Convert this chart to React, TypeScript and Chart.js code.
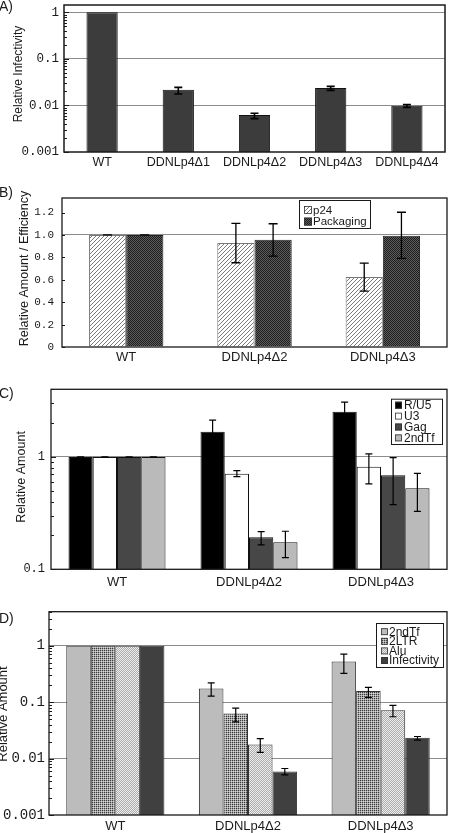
import React, { useEffect, useRef } from "react";
import { Chart, registerables } from "chart.js";

Chart.register(...registerables);

const SANS = '"Liberation Sans", Arial, Helvetica, sans-serif';
const MONO = '"Liberation Mono", "Courier New", monospace';
const INK = "#1a1a1a";
const GRID = "#8c8c8c";

// ---------- Panel A: relative infectivity (log scale)
const catsA = ["WT", "DDNLp4Δ1", "DDNLp4Δ2", "DDNLp4Δ3", "DDNLp4Δ4"];
const infA = [1, 0.0218, 0.0062, 0.0237, 0.0099];
const infALo = [null, 0.0176, 0.0052, 0.0211, 0.0091];
const infAHi = [null, 0.0245, 0.0068, 0.0257, 0.0104];
const ticksA = [0.001, 0.01, 0.1, 1];
const tickLabelsA = ["0.001", "0.01", "0.1", "1"];
const gridA = [0.01, 0.1, 1];

// ---------- Panel B: relative amount / efficiency (linear)
const catsB = ["WT", "DDNLp4Δ2", "DDNLp4Δ3"];
const p24 = [1.0, 0.928, 0.624];
const p24Lo = [1.0, 0.752, 0.499];
const p24Hi = [1.0, 1.104, 0.749];
const pack = [1.0, 0.958, 0.994];
const packLo = [1.0, 0.812, 0.791];
const packHi = [1.0, 1.1, 1.203];
const ticksB = [0, 0.2, 0.4, 0.6, 0.8, 1.0, 1.2];
const tickLabelsB = ["0", "0.2", "0.4", "0.6", "0.8", "1.0", "1.2"];
const gridB = [1.0];

// ---------- Panel C: relative amount (log)
const catsC = ["WT", "DDNLp4Δ2", "DDNLp4Δ3"];
const ru5 = [1, 1.68, 2.52];
const ru5Lo = [1, 1.32, 2.07];
const ru5Hi = [1, 2.13, 3.07];
const u3 = [1, 0.71, 0.82];
const u3Lo = [1, 0.668, 0.575];
const u3Hi = [1, 0.756, 1.063];
const gag = [1, 0.193, 0.687];
const gagLo = [1, 0.165, 0.376];
const gagHi = [1, 0.216, 0.986];
const tfC = [1, 0.174, 0.526];
const tfCLo = [1, 0.127, 0.328];
const tfCHi = [1, 0.218, 0.715];
const ticksC = [0.1, 1];
const tickLabelsC = ["0.1", "1"];
const gridC = [1];

// ---------- Panel D: relative amount (log)
const catsD = ["WT", "DDNLp4Δ2", "DDNLp4Δ3"];
const tfD = [1, 0.175, 0.527];
const tfDLo = [null, 0.128, 0.323];
const tfDHi = [null, 0.22, 0.711];
const ltr = [1, 0.063, 0.157];
const ltrLo = [null, 0.0448, 0.121];
const ltrHi = [null, 0.078, 0.182];
const alu = [1, 0.0177, 0.0721];
const aluLo = [null, 0.0129, 0.055];
const aluHi = [null, 0.0226, 0.0873];
const infD = [1, 0.00588, 0.0233];
const infDLo = [null, 0.00513, 0.0212];
const infDHi = [null, 0.00667, 0.0246];
const ticksD = [0.001, 0.01, 0.1, 1];
const tickLabelsD = ["0.001", "0.01", "0.1", "1"];
const gridD = [0.01, 0.1, 1];

// ---------- patterns
function makeTile(ctx: CanvasRenderingContext2D, size: number, colorAt: (x: number, y: number) => string) {
  const c = document.createElement("canvas");
  c.width = size;
  c.height = size;
  const g = c.getContext("2d")!;
  for (let x = 0; x < size; x++)
    for (let y = 0; y < size; y++) {
      g.fillStyle = colorAt(x, y);
      g.fillRect(x, y, 1, 1);
    }
  return ctx.createPattern(c, "repeat")!;
}

// ---------- plugins
const errorBarPlugin = {
  id: "errbars",
  afterDatasetsDraw(chart: any, _a: any, o: any) {
    const ctx = chart.ctx;
    const ys = chart.scales.y;
    ctx.save();
    ctx.strokeStyle = "#000";
    ctx.lineWidth = o.width || 1.2;
    const cap = o.cap || 3.5;
    chart.data.datasets.forEach((ds: any, di: number) => {
      if (!ds.errLo) return;
      const meta = chart.getDatasetMeta(di);
      meta.data.forEach((bar: any, i: number) => {
        const lo = ds.errLo[i];
        const hi = ds.errHi[i];
        if (lo == null || hi == null) return;
        const x = bar.x;
        const y1 = ys.getPixelForValue(lo);
        const y2 = ys.getPixelForValue(hi);
        ctx.beginPath();
        ctx.moveTo(x, y1);
        ctx.lineTo(x, y2);
        ctx.moveTo(x - cap, y1);
        ctx.lineTo(x + cap, y1);
        ctx.moveTo(x - cap, y2);
        ctx.lineTo(x + cap, y2);
        ctx.stroke();
      });
    });
    ctx.restore();
  },
};

const decorPlugin = {
  id: "decor",
  afterDraw(chart: any, _a: any, o: any) {
    const ctx = chart.ctx;
    const a = chart.chartArea;
    const ys = chart.scales.y;
    ctx.save();
    // inward tick marks on the left border
    const marks: [number, number][] = [];
    if (o.log) {
      const k0 = Math.floor(Math.log10(ys.min));
      const k1 = Math.ceil(Math.log10(ys.max));
      for (let k = k0; k <= k1; k++)
        for (let m = 1; m <= 9; m++) {
          const v = m * Math.pow(10, k);
          if (v >= ys.min * 0.999 && v <= ys.max) marks.push([v, m === 1 ? o.majorLen : o.minorLen]);
        }
    } else {
      (o.marks || []).forEach((v: number) => marks.push([v, o.majorLen]));
    }
    ctx.strokeStyle = INK;
    ctx.lineWidth = 1;
    ctx.beginPath();
    marks.forEach(([v, len]) => {
      const y = Math.round(ys.getPixelForValue(v)) + 0.5;
      ctx.moveTo(a.left, y);
      ctx.lineTo(a.left + len, y);
    });
    ctx.stroke();
    // frame
    ctx.lineWidth = o.frame || 1.3;
    ctx.strokeStyle = INK;
    ctx.strokeRect(a.left, a.top, a.right - a.left, a.bottom - a.top);
    // legend
    const L = o.legend;
    if (L) {
      ctx.fillStyle = "#fff";
      ctx.fillRect(L.x, L.y, L.w, L.h);
      ctx.lineWidth = 1;
      ctx.strokeStyle = INK;
      ctx.strokeRect(L.x + 0.5, L.y + 0.5, L.w, L.h);
      ctx.font = `${L.size}px ${SANS}`;
      ctx.textBaseline = "middle";
      ctx.textAlign = "left";
      chart.data.datasets.forEach((ds: any, i: number) => {
        const cy = L.row0 + i * L.dy;
        ctx.fillStyle = ds.backgroundColor;
        ctx.fillRect(L.sx, cy - L.sw / 2, L.sw, L.sw);
        ctx.strokeStyle = "#333";
        ctx.lineWidth = 0.8;
        ctx.strokeRect(L.sx + 0.5, cy - L.sw / 2 + 0.5, L.sw - 1, L.sw - 1);
        ctx.fillStyle = INK;
        ctx.fillText(ds.label, L.tx, cy + 0.5);
      });
    }
    // free texts
    ctx.fillStyle = INK;
    (o.texts || []).forEach((t: any) => {
      ctx.font = t.font;
      if (t.rot) {
        ctx.save();
        ctx.translate(t.x, t.y);
        ctx.rotate(-Math.PI / 2);
        ctx.textAlign = "center";
        ctx.textBaseline = "middle";
        ctx.fillText(t.text, 0, 0);
        ctx.restore();
      } else {
        ctx.textAlign = "left";
        ctx.textBaseline = "alphabetic";
        ctx.fillText(t.text, t.x, t.y);
      }
    });
    ctx.restore();
  },
};

function yScale(o: {
  log: boolean; min: number; max: number; ticks: number[]; labels: string[]; grid: number[];
  font: number; pad: number; L: number;
}) {
  return {
    type: o.log ? "logarithmic" : "linear",
    min: o.min,
    max: o.max,
    bounds: "data",
    afterBuildTicks: (s: any) => {
      s.ticks = o.ticks.map((v) => ({ value: v }));
    },
    afterFit: (s: any) => {
      s.width = o.L;
      s.paddingTop = 0;
      s.paddingBottom = 0;
      s.paddingLeft = 0;
      s.paddingRight = 0;
    },
    ticks: {
      autoSkip: false,
      color: INK,
      padding: o.pad,
      font: { family: MONO, size: o.font },
      callback: (_v: any, i: number) => o.labels[i],
    },
    grid: {
      drawTicks: false,
      lineWidth: 1,
      color: (c: any) =>
        c.tick && o.grid.some((g) => Math.abs(g - c.tick.value) < 1e-9) ? GRID : "rgba(0,0,0,0)",
    },
    border: { display: false },
  };
}

function buildConfig(o: {
  H: number; R: number; T: number; B: number;
  labels: string[]; datasets: any[]; y: any;
  xFont: number; xPad: number; decor: any; err: any;
}) {
  return {
    type: "bar",
    data: { labels: o.labels, datasets: o.datasets },
    options: {
      responsive: false,
      maintainAspectRatio: false,
      animation: false,
      events: [],
      layout: { padding: { left: 0, right: 450 - o.R, top: o.T, bottom: 0 } },
      plugins: {
        legend: { display: false },
        tooltip: { enabled: false },
        decor: o.decor,
        errbars: o.err,
      },
      scales: {
        x: {
          type: "category",
          grid: { display: false, drawTicks: false },
          border: { display: false },
          ticks: {
            color: INK,
            autoSkip: false,
            maxRotation: 0,
            padding: o.xPad,
            font: { family: SANS, size: o.xFont },
          },
          afterFit: (s: any) => {
            s.height = o.H - o.B;
            s.paddingLeft = 0;
            s.paddingRight = 0;
            s.paddingTop = 0;
            s.paddingBottom = 0;
          },
        },
        y: o.y,
      },
    },
    plugins: [errorBarPlugin, decorPlugin],
  };
}

// ---------- panel builders (canvas-relative geometry)
function configA(_ctx: CanvasRenderingContext2D) {
  return buildConfig({
    H: 180, R: 445, T: 5, B: 152,
    labels: catsA,
    datasets: [
      {
        label: "Infectivity",
        data: infA,
        errLo: infALo,
        errHi: infAHi,
        backgroundColor: "#3c3c3c",
        borderColor: "#111",
        borderWidth: 1,
        barPercentage: 0.41,
        categoryPercentage: 1,
      },
    ],
    y: yScale({ log: true, min: 0.001, max: 1.44, ticks: ticksA, labels: tickLabelsA, grid: gridA, font: 12.5, pad: 5, L: 64 }),
    xFont: 12.5,
    xPad: 3,
    err: { width: 1.6, cap: 4 },
    decor: {
      log: true, majorLen: 5, minorLen: 3, frame: 1.5,
      texts: [
        { text: "A)", x: -1, y: 11, font: `14px ${SANS}` },
        { text: "Relative Infectivity", x: 19, y: 74, rot: true, font: `12px ${SANS}` },
      ],
    },
  });
}

function configB(ctx: CanvasRenderingContext2D) {
  const hatch = makeTile(ctx, 4, (x, y) => ((x + y) % 4 === 3 ? "#7a7a7a" : "#ffffff"));
  const dark = makeTile(ctx, 2, (x, y) => ((x + y) % 2 === 0 ? "#1e1e1e" : "#5c5c5c"));
  return buildConfig({
    H: 192, R: 447, T: 18, B: 167,
    labels: catsB,
    datasets: [
      {
        label: "p24", data: p24, errLo: p24Lo, errHi: p24Hi,
        backgroundColor: hatch, borderColor: "#777", borderWidth: 1,
        barPercentage: 1, categoryPercentage: 0.58,
      },
      {
        label: "Packaging", data: pack, errLo: packLo, errHi: packHi,
        backgroundColor: dark, borderColor: "#222", borderWidth: 1,
        barPercentage: 1, categoryPercentage: 0.58,
      },
    ],
    y: yScale({ log: false, min: 0, max: 1.33, ticks: ticksB, labels: tickLabelsB, grid: gridB, font: 11, pad: 8, L: 62 }),
    xFont: 13,
    xPad: 3,
    err: { width: 1.3, cap: 4.5 },
    decor: {
      log: false, marks: ticksB, majorLen: 3, frame: 1.3,
      legend: { x: 299, y: 20, w: 71, h: 28, row0: 30, dy: 11.6, sx: 304, sw: 8, tx: 313, size: 11.5 },
      texts: [
        { text: "B)", x: -1, y: 17, font: `14px ${SANS}` },
        { text: "Relative Amount / Efficiency", x: 25, y: 88.5, rot: true, font: `12.5px ${SANS}` },
      ],
    },
  });
}

function configC(_ctx: CanvasRenderingContext2D) {
  const common = { borderColor: "#111", borderWidth: 1, barPercentage: 1, categoryPercentage: 0.735 };
  return buildConfig({
    H: 226, R: 447, T: 17.3, B: 197.3,
    labels: catsC,
    datasets: [
      { label: "R/U5", data: ru5, errLo: ru5Lo, errHi: ru5Hi, backgroundColor: "#000000", ...common },
      { label: "U3", data: u3, errLo: u3Lo, errHi: u3Hi, backgroundColor: "#ffffff", ...common },
      { label: "Gag", data: gag, errLo: gagLo, errHi: gagHi, backgroundColor: "#474747", ...common },
      { label: "2ndTf", data: tfC, errLo: tfCLo, errHi: tfCHi, backgroundColor: "#bababa", ...common },
    ],
    y: yScale({ log: true, min: 0.1, max: 4, ticks: ticksC, labels: tickLabelsC, grid: gridC, font: 12, pad: 6, L: 51 }),
    xFont: 13,
    xPad: 5,
    err: { width: 1.2, cap: 3.5 },
    decor: {
      log: true, majorLen: 5, minorLen: 3, frame: 1.3,
      legend: { x: 391, y: 26.7, w: 51, h: 45.3, row0: 33.2, dy: 10.9, sx: 395, sw: 7, tx: 404, size: 12 },
      texts: [
        { text: "C)", x: -1, y: 26, font: `14px ${SANS}` },
        { text: "Relative Amount", x: 21.7, y: 105, rot: true, font: `12.5px ${SANS}` },
      ],
    },
  });
}

function configD(ctx: CanvasRenderingContext2D) {
  const ltrPat = makeTile(ctx, 2, (x, y) =>
    x === 0 && y === 0 ? "#3a3a3a" : x === 1 && y === 1 ? "#d6d6d6" : "#a6a6a6"
  );
  const aluPat = makeTile(ctx, 2, (x, y) => ((x + y) % 2 === 0 ? "#eeeeee" : "#ababab"));
  const common = { borderColor: "#333", borderWidth: 1, barPercentage: 1, categoryPercentage: 0.74 };
  return buildConfig({
    H: 235, R: 447, T: 13.7, B: 217,
    labels: catsD,
    datasets: [
      { label: "2ndTf", data: tfD, errLo: tfDLo, errHi: tfDHi, backgroundColor: "#bcbcbc", ...common },
      { label: "2LTR", data: ltr, errLo: ltrLo, errHi: ltrHi, backgroundColor: ltrPat, ...common },
      { label: "Alu", data: alu, errLo: aluLo, errHi: aluHi, backgroundColor: aluPat, ...common },
      { label: "Infectivity", data: infD, errLo: infDLo, errHi: infDHi, backgroundColor: "#404040", ...common },
    ],
    y: yScale({ log: true, min: 0.001, max: 4, ticks: ticksD, labels: tickLabelsD, grid: gridD, font: 14, pad: 4, L: 49 }),
    xFont: 13,
    xPad: 4,
    err: { width: 1.2, cap: 3.5 },
    decor: {
      log: true, majorLen: 5, minorLen: 3, frame: 1.3,
      legend: { x: 376, y: 25, w: 67, h: 44, row0: 33.7, dy: 9.6, sx: 381, sw: 7, tx: 389, size: 12 },
      texts: [
        { text: "D)", x: -1, y: 24.7, font: `14px ${SANS}` },
        { text: "Relative Amount", x: 3.5, y: 116, rot: true, font: `13px ${SANS}` },
      ],
    },
  });
}

function Panel({ top, height, build }: { top: number; height: number; build: (ctx: CanvasRenderingContext2D) => any }) {
  const ref = useRef<HTMLCanvasElement>(null);
  useEffect(() => {
    const cv = ref.current!;
    const ctx = cv.getContext("2d")!;
    const chart = new Chart(ctx, build(ctx));
    return () => chart.destroy();
  }, []);
  return (
    <canvas
      ref={ref}
      width={450}
      height={height}
      style={{ position: "absolute", left: 0, top, width: 450, height, display: "block" }}
    />
  );
}

export default function App() {
  return (
    <div style={{ position: "absolute", left: 0, top: 0, width: 450, height: 833, background: "#fff", overflow: "hidden" }}>
      <Panel top={0} height={180} build={configA} />
      <Panel top={180} height={192} build={configB} />
      <Panel top={372} height={226} build={configC} />
      <Panel top={598} height={235} build={configD} />
    </div>
  );
}
